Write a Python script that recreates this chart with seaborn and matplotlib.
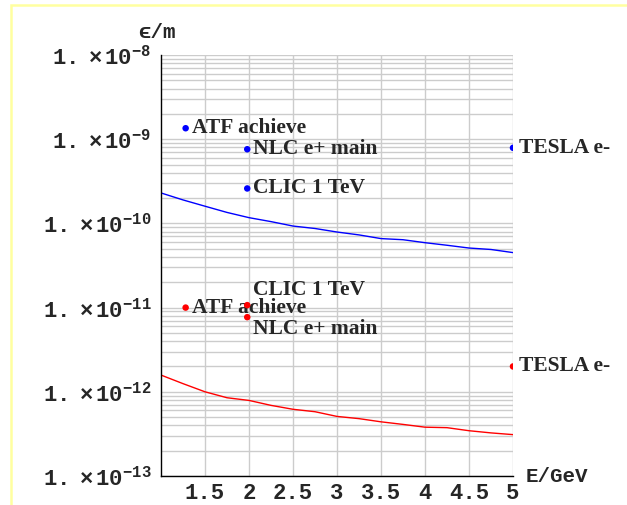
import numpy as np
import pandas as pd
import matplotlib
matplotlib.use('Agg')
import matplotlib.pyplot as plt
import matplotlib.ticker as mticker
from matplotlib.patches import Rectangle
import seaborn as sns

# Curves (emittance limit vs energy)
energy = [1.0, 1.25, 1.5, 1.75, 2.0, 2.25, 2.5, 2.75, 3.0, 3.25, 3.5, 3.75, 4.0, 4.25, 4.5, 4.75, 5.0]
blue_curve = [2.3e-10, 1.9e-10, 1.6e-10, 1.35e-10, 1.17e-10, 1.05e-10, 9.3e-11, 8.7e-11, 7.9e-11,
              7.3e-11, 6.6e-11, 6.4e-11, 5.9e-11, 5.5e-11, 5.1e-11, 4.9e-11, 4.5e-11]
red_curve = [1.58e-12, 1.25e-12, 1.0e-12, 8.5e-13, 7.9e-13, 6.9e-13, 6.2e-13, 5.8e-13, 5.1e-13,
             4.8e-13, 4.4e-13, 4.1e-13, 3.8e-13, 3.75e-13, 3.45e-13, 3.25e-13, 3.1e-13]

# Machines
machines = ['ATF achieve', 'NLC e+ main', 'CLIC 1 TeV', 'TESLA e-']
machine_energy = [1.28, 1.98, 1.98, 5.0]
blue_emit = [1.35e-9, 7.6e-10, 2.6e-10, 7.9e-10]
red_emit = [1.0e-11, 7.7e-12, 1.07e-11, 2.0e-12]

sns.set_style('white')
plt.rcParams['font.weight'] = 'bold'
plt.rcParams['mathtext.fontset'] = 'custom'
plt.rcParams['mathtext.rm'] = 'Liberation Mono:weight=bold'
plt.rcParams['mathtext.it'] = 'Liberation Mono:weight=bold'
plt.rcParams['mathtext.bf'] = 'Liberation Mono:weight=bold'

fig = plt.figure(figsize=(6.27, 5.05), dpi=100)
ax = fig.add_axes([161 / 627, 29 / 505, 352 / 627, 421 / 505])

curves = pd.DataFrame({'E': energy * 2,
                       'emit': blue_curve + red_curve,
                       'set': ['blue'] * len(energy) + ['red'] * len(energy)})
sns.lineplot(data=curves, x='E', y='emit', hue='set', palette={'blue': '#0000ff', 'red': '#ff0000'},
             lw=1, legend=False, ax=ax)

pts = pd.DataFrame({'E': machine_energy * 2,
                    'emit': blue_emit + red_emit,
                    'set': ['blue'] * 4 + ['red'] * 4})
sns.scatterplot(data=pts, x='E', y='emit', hue='set', palette={'blue': '#0000ff', 'red': '#ff0000'},
                s=22, linewidth=0, legend=False, ax=ax, zorder=5)

ax.set_yscale('log')
ax.set_xlim(1.0, 5.0)
ax.set_ylim(1e-13, 1e-8)

# labels next to the points
for name, e, b in zip(machines, machine_energy, blue_emit):
    ax.annotate(name, (e, b), xytext=(6, 0), textcoords='offset pixels', va='center', ha='left',
                family='Liberation Serif', fontweight='bold', fontsize=15.5, annotation_clip=False)
red_offsets = [0, -12, 15, 0]
for name, e, r, dy in zip(machines, machine_energy, red_emit, red_offsets):
    ax.annotate(name, (e, r), xytext=(6, dy), textcoords='offset pixels', va='center', ha='left',
                family='Liberation Serif', fontweight='bold', fontsize=15.5, annotation_clip=False)

# ticks and grid
ax.xaxis.set_major_locator(mticker.FixedLocator([1.5, 2, 2.5, 3, 3.5, 4, 4.5, 5]))
ax.xaxis.set_minor_locator(mticker.MultipleLocator(0.1))
ax.xaxis.set_major_formatter(mticker.FuncFormatter(lambda v, p: f'{v:g}'))
ax.yaxis.set_major_locator(mticker.LogLocator(base=10, numticks=10))
ax.yaxis.set_minor_locator(mticker.LogLocator(base=10, subs=np.arange(2, 10), numticks=20))
ax.yaxis.set_major_formatter(mticker.FuncFormatter(
    lambda v, p: r'$\mathregular{1.\ \times10^{%d}}$' % round(np.log10(v))))
ax.yaxis.set_minor_formatter(mticker.NullFormatter())

ax.grid(True, which='major', axis='x', color='#cccccc', lw=1)
ax.grid(True, which='both', axis='y', color='#cccccc', lw=1)
ax.tick_params(axis='both', which='major', direction='in', length=5, width=1, color='black',
               labelsize=16, labelfontfamily='Liberation Mono')
ax.tick_params(axis='both', which='minor', direction='in', length=2.5, width=0.8, color='black')
ax.tick_params(axis='x', which='major', pad=5)
ax.tick_params(axis='y', which='major', pad=7)

for s in ['top', 'right']:
    ax.spines[s].set_visible(False)
for s in ['left', 'bottom']:
    ax.spines[s].set_color('black')
    ax.spines[s].set_linewidth(1)
ax.set_xlabel('')
ax.set_ylabel('')

fig.text(138 / 627, 1 - 32 / 505, '\u03f5/m', family=['Liberation Mono', 'DejaVu Sans Mono'],
         fontweight='bold', fontsize=15, ha='left', va='center')
fig.text(526 / 627, 1 - 477 / 505, 'E/GeV', family='Liberation Mono',
         fontweight='bold', fontsize=15, ha='left', va='center')

# pale yellow frame
fig.patches.append(Rectangle((11 / 627, -0.1), 1.2, 1 - 5 / 505 + 0.1, transform=fig.transFigure,
                             fill=False, edgecolor='#ffffa0', lw=1.8))

fig.savefig('out.png', dpi=100)
